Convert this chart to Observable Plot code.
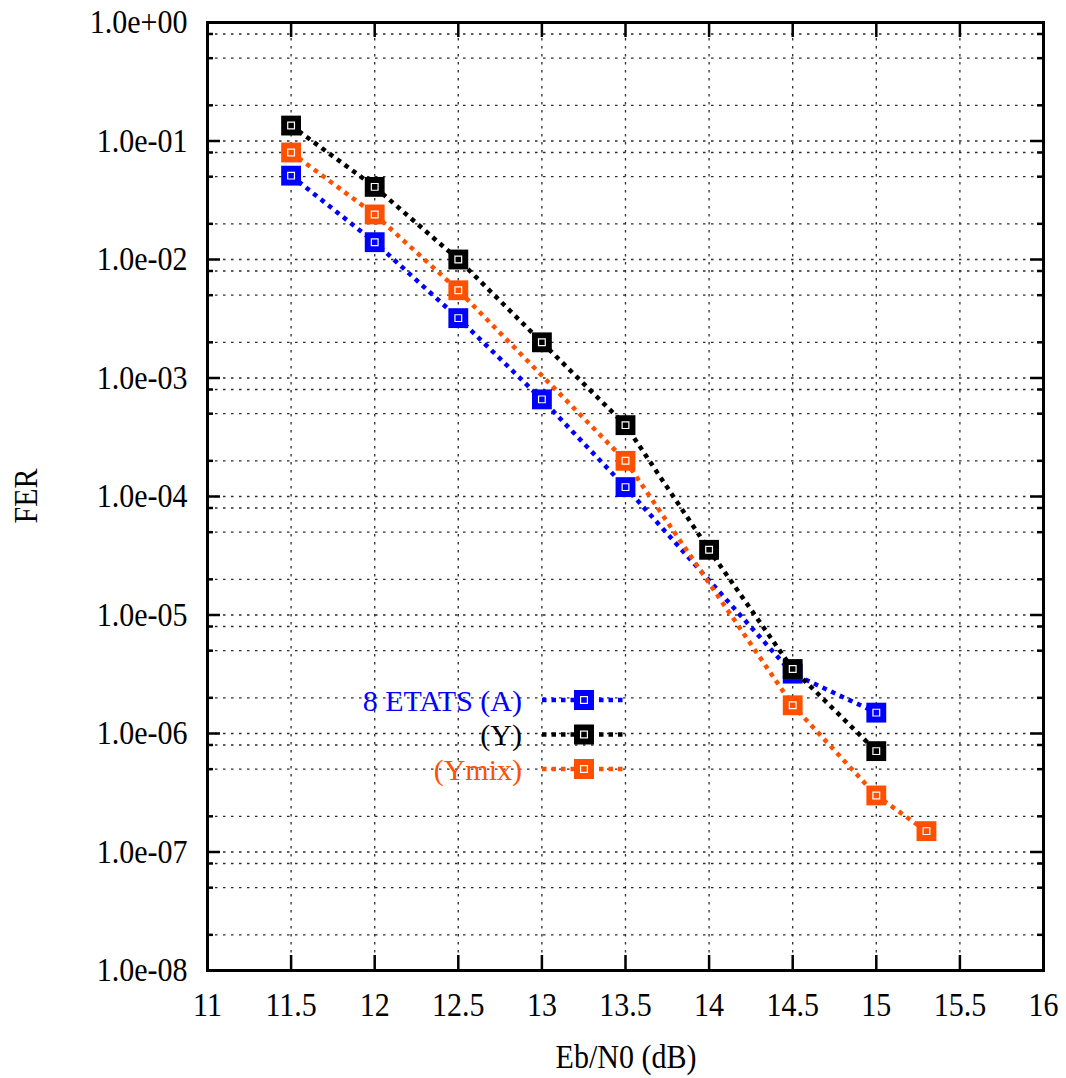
<!DOCTYPE html>
<html><head><meta charset="utf-8">
<script src="https://cdn.jsdelivr.net/npm/d3@7"></script>
<script src="https://cdn.jsdelivr.net/npm/@observablehq/plot@0.6"></script>
<style>
body{margin:0;background:#fff;}
#wrap{position:relative;width:1066px;height:1078px;font-family:"Liberation Serif","Times New Roman",serif;}
#wrap svg, #wrap svg text{font-family:"Liberation Serif","Times New Roman",serif !important;}
#legend{position:absolute;left:0;top:0;pointer-events:none;}
</style></head><body><div id="wrap"></div>
<script>
// ---- data ----
const ebn0A = [11.5, 12, 12.5, 13, 13.5, 14.5, 15];
const ferA = [0.051, 0.014, 0.0032, 6.6e-4, 1.2e-4, 3.2e-6, 1.5e-6];
const ebn0Y = [11.5, 12, 12.5, 13, 13.5, 14, 14.5, 15];
const ferY = [0.135, 0.041, 0.01, 0.002, 4.0e-4, 3.55e-5, 3.5e-6, 7.1e-7];
const ebn0Ymix = [11.5, 12, 12.5, 13.5, 14.5, 15, 15.3];
const ferYmix = [0.08, 0.024, 0.0055, 2.0e-4, 1.73e-6, 3.0e-7, 1.5e-7];
const seriesNames = ["8 ETATS (A)", "(Y)", "(Ymix)"];
const seriesColors = ["#0000ff", "#000000", "#ff5000"];
const xTicks = [11, 11.5, 12, 12.5, 13, 13.5, 14, 14.5, 15, 15.5, 16];
const xTickLabels = ["11", "11.5", "12", "12.5", "13", "13.5", "14", "14.5", "15", "15.5", "16"];
const yTicks = [1e-8, 1e-7, 1e-6, 1e-5, 1e-4, 1e-3, 1e-2, 1e-1, 1];
const yTickLabels = ["1.0e-08", "1.0e-07", "1.0e-06", "1.0e-05", "1.0e-04", "1.0e-03", "1.0e-02", "1.0e-01", "1.0e+00"];
const yMinorFactors = [2, 5, 8];
const xLabel = "Eb/N0 (dB)";
const yLabel = "FER";

// ---- build ----
const W = 1066, H = 1078;
const mL = 207, mR = 23, mT = 22, mB = 108;
const pw = W - mL - mR, ph = H - mT - mB;
const SY = 1.13; // vertical stretch of the original's lettering
const seriesX = [ebn0A, ebn0Y, ebn0Ymix];
const seriesV = [ferA, ferY, ferYmix];
const rows = [];
seriesNames.forEach((name, i) => seriesX[i].forEach((x, j) => rows.push({series: name, x, fer: seriesV[i][j]})));
const minorTicks = [];
yTicks.slice(0, -1).forEach(t => yMinorFactors.forEach(f => minorTicks.push(t * f)));
const allY = yTicks.concat(minorTicks);
const font = '"Liberation Serif","Times New Roman",serif';
const grid = {stroke: "#2a2a2a", strokeWidth: 1.3, strokeDasharray: "2.5,5.5"};
const tickStyle = {stroke: "#000", strokeWidth: 2.5};
const lineStyle = {strokeWidth: 4.5, strokeDasharray: "4.5,5", strokeLinecap: "butt", strokeLinejoin: "miter"};

const marks = [
  Plot.ruleY(allY.filter(v => v > 1e-8 && v < 1), {y: d => d, ...grid}),
  Plot.ruleX(xTicks.filter(v => v > 11 && v < 16), {x: d => d, ...grid}),
  // inward ticks
  Plot.ruleY(yTicks, {y: d => d, insetRight: pw - 13, ...tickStyle}),
  Plot.ruleY(yTicks, {y: d => d, insetLeft: pw - 13, ...tickStyle}),
  Plot.ruleY(minorTicks, {y: d => d, insetRight: pw - 6, ...tickStyle}),
  Plot.ruleY(minorTicks, {y: d => d, insetLeft: pw - 6, ...tickStyle}),
  Plot.ruleX(xTicks, {x: d => d, insetTop: ph - 15, ...tickStyle}),
  Plot.ruleX(xTicks, {x: d => d, insetBottom: ph - 15, ...tickStyle}),
];
seriesNames.forEach((name, i) => {
  const d = rows.filter(r => r.series === name);
  marks.push(Plot.line(d, {x: "x", y: "fer", stroke: seriesColors[i], ...lineStyle}));
  marks.push(Plot.dot(d, {x: "x", y: "fer", symbol: "square", r: 11.2, fill: seriesColors[i], stroke: "none"}));
  marks.push(Plot.dot(d, {x: "x", y: "fer", symbol: "square", r: 3.8, fill: "none", stroke: "#fff", strokeWidth: 1.2}));
});
marks.push(Plot.frame({stroke: "#000", strokeWidth: 3}));
marks.push(Plot.axisX({ticks: xTicks, tickSize: 0, tickPadding: 21, tickFormat: d => xTickLabels[xTicks.indexOf(d)], fontSize: 30, label: null}));
marks.push(Plot.axisY({ticks: yTicks, tickSize: 0, tickPadding: 20, tickFormat: d => yTickLabels[yTicks.indexOf(d)], fontSize: 30, label: null}));

const chart = Plot.plot({
  width: W, height: H,
  marginLeft: mL, marginRight: mR, marginTop: mT, marginBottom: mB,
  style: {fontSize: "30px", color: "#000", background: "#fff", overflow: "visible"},
  x: {domain: [11, 16]},
  y: {type: "log", domain: [1e-8, 1]},
  marks
});
document.getElementById("wrap").appendChild(chart);

// stretch tick labels vertically around their own anchor
chart.querySelectorAll('g[aria-label$="tick label"] text').forEach(t => {
  const tr = t.getAttribute("transform");
  if (tr) t.setAttribute("transform", tr + ` scale(1,${SY})`);
  else {
    const x = +t.getAttribute("x") || 0, y = +t.getAttribute("y") || 0;
    t.setAttribute("transform", `translate(${x},${y}) scale(1,${SY}) translate(${-x},${-y})`);
  }
});

// ---- overlay: axis titles and legend ----
const lg = d3.select("#wrap").append("svg").attr("id", "legend").attr("width", W).attr("height", H);
lg.append("text").attr("transform", `translate(${mL + pw / 2 + 1},1068) scale(1,${SY})`).attr("text-anchor", "middle")
  .attr("font-family", font).attr("font-size", 30).attr("fill", "#000").text(xLabel);
lg.append("text").attr("transform", `translate(37,${mT + ph / 2}) rotate(-90) scale(1,${SY})`).attr("text-anchor", "middle")
  .attr("font-family", font).attr("font-size", 30).attr("fill", "#000").text(yLabel);
const legY0 = 700, legDy = 34.5, textRight = 522, lineX1 = 542, lineX2 = 623, markX = 584;
seriesNames.forEach((name, i) => {
  const y = legY0 + i * legDy;
  lg.append("text").attr("x", textRight).attr("y", y).attr("dy", "0.35em").attr("text-anchor", "end")
    .attr("font-family", font).attr("font-size", 30).attr("fill", seriesColors[i]).text(name);
  lg.append("line").attr("x1", lineX1).attr("x2", lineX2).attr("y1", y).attr("y2", y)
    .attr("stroke", seriesColors[i]).attr("stroke-width", 4.5).attr("stroke-dasharray", "4.5,5");
  lg.append("rect").attr("x", markX - 10).attr("y", y - 10).attr("width", 20).attr("height", 20).attr("fill", seriesColors[i]);
  lg.append("rect").attr("x", markX - 3.4).attr("y", y - 3.4).attr("width", 6.8).attr("height", 6.8).attr("fill", "none").attr("stroke", "#fff").attr("stroke-width", 1.2);
});
</script></body></html>
